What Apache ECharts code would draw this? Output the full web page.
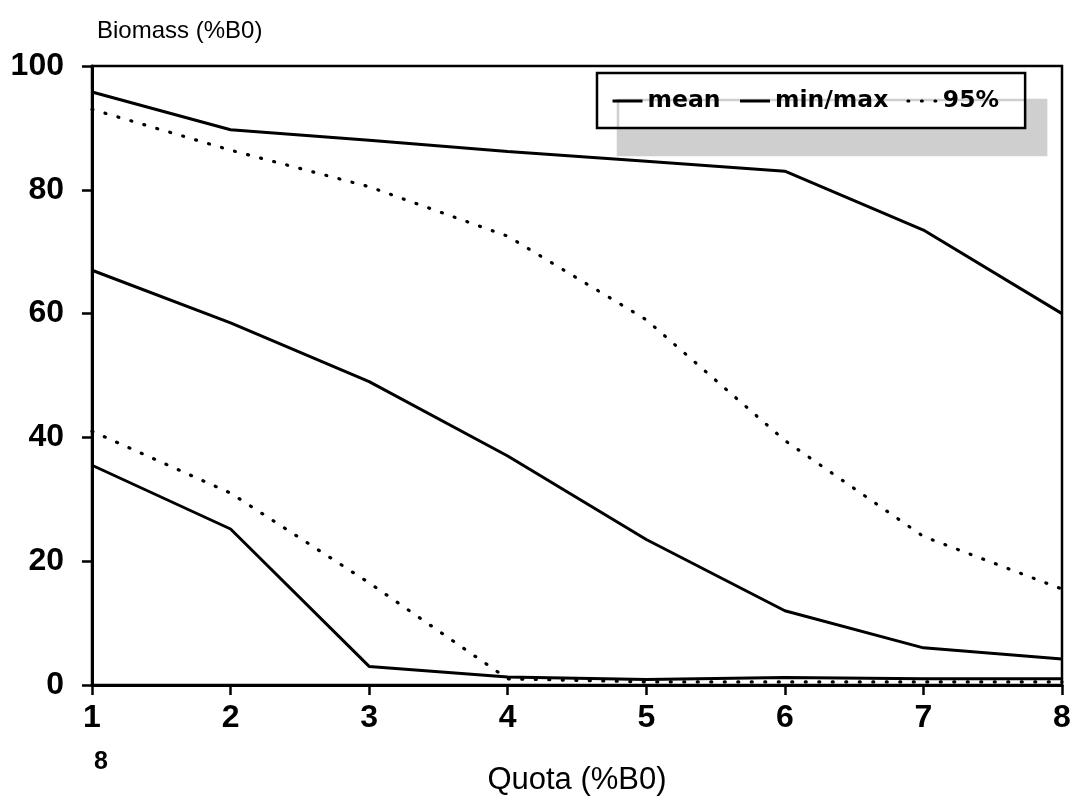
<!DOCTYPE html>
<html>
<head>
<meta charset="utf-8">
<script src="https://cdn.jsdelivr.net/npm/echarts@6/dist/echarts.min.js"></script>
<style>html,body{margin:0;padding:0;background:#fff}#c{width:1084px;height:802px}</style>
</head>
<body>
<div id="c"></div>
<script>
const quota = [1, 2, 3, 4, 5, 6, 7, 8];
const meanVals = [67, 58.5, 49, 37, 23.5, 12, 6, 4.2];
const maxVals = [95.8, 89.7, 88, 86.2, 84.6, 83, 73.5, 60];
const minVals = [35.5, 25.2, 3, 1.3, 0.9, 1.2, 1, 1];
const upper95 = [93, 86.4, 80.5, 72.5, 59, 39.5, 24, 15.5];
const lower95 = [41, 31, 16.5, 1, 0.5, 0.5, 0.5, 0.5];
const yTicks = [0, 20, 40, 60, 80, 100];

const pair = v => quota.map((q, i) => [q, v[i]]);
const font = 'Liberation Sans, Arial, sans-serif';
const solid = { color: '#000', width: 3, type: 'solid' };
const dotted = { color: '#000', width: 3.2, type: [1, 12.5], cap: 'round' };

const chart = echarts.init(document.getElementById('c'));
chart.setOption({
  animation: false,
  backgroundColor: '#fff',
  grid: { left: 92, right: 22, top: 66, bottom: 117, outerBoundsMode: 'none', containLabel: false,
    show: true, borderColor: '#000', borderWidth: 2.5, backgroundColor: 'transparent' },
  legend: {
    left: 597, top: 73,
    orient: 'horizontal',
    itemGap: 18, itemWidth: 30, itemHeight: 14,
    padding: [16, 26, 15, 14],
    backgroundColor: '#fff', borderColor: '#000', borderWidth: 2.5,
    shadowColor: '#cfcfcf', shadowBlur: 0, shadowOffsetX: 21, shadowOffsetY: 27,
    itemStyle: { opacity: 0, borderWidth: 0 },
    lineStyle: { width: 3 },
    textStyle: { fontFamily: 'DejaVu Sans', fontWeight: 'bold', fontSize: 23.5, color: '#000' },
    data: ['mean', 'min/max', '95%']
  },
  xAxis: {
    type: 'value', min: 1, max: 8, interval: 1,
    name: 'Quota (%B0)', nameLocation: 'middle', nameGap: 80,
    nameTextStyle: { fontFamily: font, fontSize: 31, color: '#000' },
    axisLine: { lineStyle: { color: '#000', width: 3 } },
    axisTick: { show: true, length: 10, lineStyle: { color: '#000', width: 2.5 } },
    axisLabel: { fontFamily: font, fontSize: 32, fontWeight: 'bold', color: '#000', margin: 17 },
    splitLine: { show: false }
  },
  yAxis: {
    type: 'value', min: 0, max: 100, interval: 20,
    name: 'Biomass (%B0)', nameLocation: 'end', nameGap: 23,
    nameTextStyle: { fontFamily: font, fontSize: 24, color: '#000', align: 'left', padding: [0, 0, 0, 5] },
    axisLine: { show: true, lineStyle: { color: '#000', width: 3 } },
    axisTick: { show: true, length: 10, lineStyle: { color: '#000', width: 2.5 } },
    axisLabel: { fontFamily: font, fontSize: 32, fontWeight: 'bold', color: '#000', margin: 28,
      formatter: v => yTicks.includes(v) ? String(v) : '' },
    splitLine: { show: false }
  },
  graphic: [
    { type: 'text', left: 94, top: 750, style: { text: '8', fontFamily: font, fontSize: 25, fontWeight: 'bold', fill: '#000' } }
  ],
  series: [
    { name: 'mean', type: 'line', data: pair(meanVals), symbol: 'none', lineStyle: solid, itemStyle: { color: '#000' } },
    { name: 'min/max', type: 'line', data: pair(maxVals), symbol: 'none', lineStyle: solid, itemStyle: { color: '#000' } },
    { name: 'min/max', type: 'line', data: pair(minVals), symbol: 'none', lineStyle: solid, itemStyle: { color: '#000' } },
    { name: '95%', type: 'line', data: pair(upper95), symbol: 'none', lineStyle: dotted, itemStyle: { color: '#000' } },
    { name: '95%', type: 'line', data: pair(lower95), symbol: 'none', lineStyle: dotted, itemStyle: { color: '#000' } }
  ]
});
</script>
</body>
</html>
